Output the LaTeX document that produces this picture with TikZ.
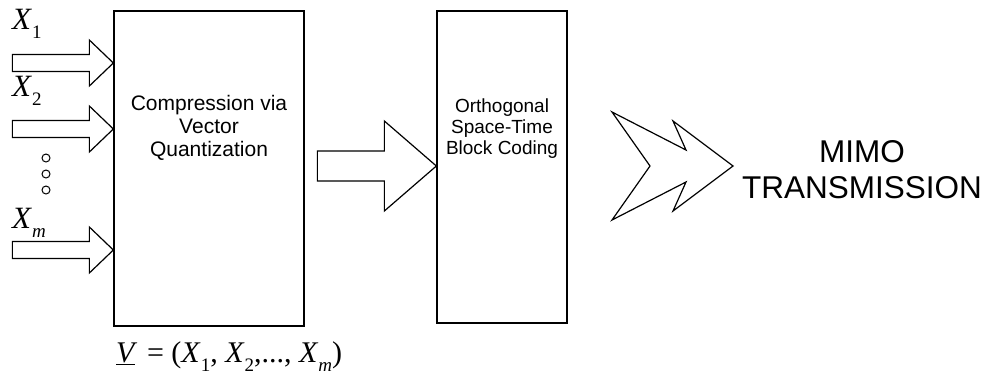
\documentclass[tikz,border=0pt]{standalone}
\usepackage{fontspec}
\setmainfont{Liberation Sans}
\newfontfamily\tms{Liberation Serif}
% italic X with a lowered index
\newcommand\symX[1]{{\itshape X}\kern1pt\raisebox{-0.3em}{\fontsize{19}{19}\selectfont #1}}
\begin{document}
\begin{tikzpicture}[x=1pt,y=-1pt,
  outline/.style={draw=black, line width=1.2pt, line join=miter},
  block/.style={draw=black, line width=1.3pt, rectangle, inner sep=0pt},
  boxtext/.style={font=\fontsize{21}{23}\selectfont, align=center},
  symlabel/.style={font=\tms\fontsize{31}{31}\selectfont, anchor=base west, inner sep=0pt},
  inarrow/.pic={\draw[outline] (0,0) -- (-24,-23) -- (-24,-8.5) -- (-101,-8.5) -- (-101,8.5) -- (-24,8.5) -- (-24,23) -- cycle;},
  midarrow/.pic={\draw[outline] (0,0) -- (-52,-45) -- (-52,-15) -- (-119,-15) -- (-119,15) -- (-52,15) -- (-52,45) -- cycle;},
  zigarrow/.pic={\draw[outline] (0,0) -- (-60,-45) -- (-47,-16) -- (-121,-54) -- (-83,0)
      -- (-121,54) -- (-47,16) -- (-60,45) -- cycle;}
]
\useasboundingbox (0,0) rectangle (984,378);

% the two processing blocks
\node[block, minimum width=190, minimum height=315] (vq) at (209,168.5) {};
\node[block, minimum width=130, minimum height=312] (stbc) at (502,167) {};

\node[boxtext] (vqtext) at (209,128) {Compression via\\Vector\\Quantization};
\node[boxtext, font=\fontsize{19}{21}\selectfont] (stbctext) at (502,129) {Orthogonal\\Space-Time\\Block Coding};

% input streams
\coordinate (in1) at (vq.west |- 0,63);
\coordinate (in2) at (vq.west |- 0,129);
\coordinate (inm) at (vq.west |- 0,250);
\pic at (in1) {inarrow};
\pic at (in2) {inarrow};
\pic at (inm) {inarrow};

\node[symlabel] (x1) at (12,29) {\symX{1}};
\node[symlabel] (x2) at (12,96) {\symX{2}};
\node[symlabel] (xm) at (12,228) {\symX{\itshape m}};

\foreach \cy [count=\i] in {158,174,190}
  \node[circle, draw=black, line width=1pt, minimum size=8, inner sep=0pt] (dot\i) at (46,\cy) {};

% block to block
\coordinate (mid) at (stbc.west |- 0,166);
\pic at (mid) {midarrow};

% out to the channel
\coordinate (out) at (733,166);
\pic at (out) {zigarrow};

\node[font=\fontsize{31.5}{36}\selectfont, align=center] (mimo) at (862,170) {MIMO\\TRANSMISSION};

% the input vector
\node[symlabel, font=\tms\fontsize{30}{30}\selectfont] (vec) at (116,362)
  {\underline{\itshape V}\, = (\symX{1}, \symX{2},..., \symX{\itshape m})};
\end{tikzpicture}
\end{document}
